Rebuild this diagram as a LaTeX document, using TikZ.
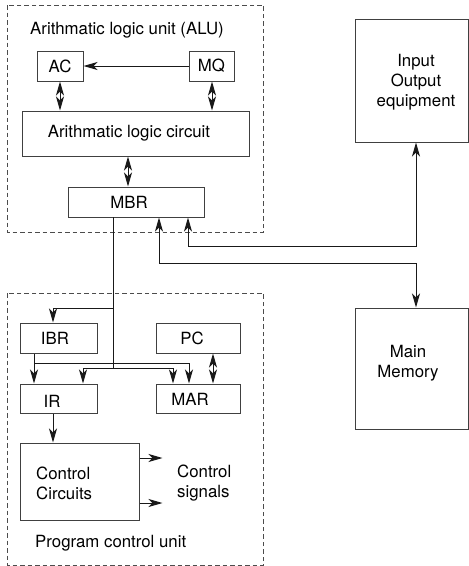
\documentclass[tikz,border=0pt]{standalone}
\usepackage{fontspec}
\setmainfont{TeX Gyre Heros}
\usetikzlibrary{arrows.meta,calc}

\begin{document}
\begin{tikzpicture}[x=1pt,y=-1pt,
  every node/.style={font=\fontsize{16.8}{20}\selectfont, inner sep=0pt, text=black},
  reg/.style={draw=black!75, line width=1pt, rectangle},
  unit/.style={draw=black!70, line width=0.9pt, dash pattern=on 4.5pt off 3pt},
  wire/.style={draw=black!90, line width=1pt},
  tip/.tip={Stealth[length=14pt,width=8pt,inset=4pt]},
  arr/.style={wire, -tip},
  dbl/.style={wire, tip-tip},
  lbl/.style={anchor=center},
  lft/.style={anchor=west}]

\useasboundingbox (0,0) rectangle (469,566);

% ---- Arithmetic logic unit ----
\draw[unit] (7,5) rectangle (263.5,232);
\node[lbl] (alutitle) at (127,30) {Arithmatic logic unit (ALU)};

\node[reg, minimum width=46pt, minimum height=30pt] (AC) at (60,66) {AC};
\node[reg, minimum width=45pt, minimum height=30pt] (MQ) at (211.5,66) {MQ};
\node[reg, minimum width=227pt, minimum height=45pt] (ALC) at (135.5,133.5) {};
\node[lbl] (alctext) at (129,133.5) {Arithmatic logic circuit};
\node[reg, minimum width=136pt, minimum height=30pt] (MBR) at (136,202) {};
\node[lbl] (mbrtext) at (129,202) {MBR};

\draw[arr] (MQ.west) -- (AC.east);
\draw[dbl] (AC.south) -- (AC.south |- ALC.north);
\draw[dbl] ([xshift=0.5pt]MQ.south) -- ([xshift=0.5pt]MQ.south |- ALC.north);
\draw[dbl] ([xshift=-7.5pt]ALC.south) -- ([xshift=-8pt]MBR.north);

% ---- Peripheral boxes ----
\node[reg, minimum width=113.5pt, minimum height=123pt] (IO) at (411.75,80.5) {};
\node[align=center] (iotext) at (416,82) {Input\\Output\\equipment};
\node[reg, minimum width=113.5pt, minimum height=121pt] (MM) at (411.75,368.5) {};
\node[align=center] (mmtext) at (408,363.5) {Main\\Memory};

% ---- Program control unit ----
\draw[unit] (7,293) rectangle (263.5,565);

\node[reg, minimum width=77pt, minimum height=30pt] (IBR) at (58.5,338) {};
\node[lbl] (ibrtext) at (55,338) {IBR};
\node[reg, minimum width=84pt, minimum height=30pt] (PC) at (198,338) {};
\node[lbl] (pctext) at (192,338) {PC};
\node[reg, minimum width=77pt, minimum height=29pt] (IR) at (58.5,398.5) {};
\node[lbl] (irtext) at (52,401) {IR};
\node[reg, minimum width=84pt, minimum height=29pt] (MAR) at (198,398.5) {};
\node[lbl] (martext) at (190,399) {MAR};
\node[reg, minimum width=119pt, minimum height=77pt] (CC) at (79.5,481.5) {};
\node[lft, align=left] (cctext) at (36,483) {Control\\Circuits};
\node[lft, align=left] (sigtext) at (177,483) {Control\\signals};
\node[lft] (pcutitle) at (35,543) {Program control unit};

% junction points of the internal bus
\coordinate (mbrdrop) at (113,217);
\coordinate (ibrtap) at (113,308);
\coordinate (busjoin) at (113,368);
\coordinate (ibrbranch) at (34,363);

% MBR feeds IBR, IR and MAR
\draw[wire] (mbrdrop) -- (busjoin);
\draw[arr] (ibrtap) -| ([xshift=-5.5pt]IBR.north);
\draw[wire] ([xshift=24.5pt]IR.north |- busjoin) -- ([xshift=-25pt]MAR.north |- busjoin);
\draw[arr] (busjoin) -| ([xshift=24.5pt]IR.north);
\draw[arr] (busjoin) -| ([xshift=-25pt]MAR.north);

% IBR feeds IR and MAR
\draw[arr] ([xshift=-24.5pt]IBR.south) -- ([xshift=-24.5pt]IR.north);
\draw[arr] (ibrbranch) -| ([xshift=-9pt]MAR.north);

% PC <-> MAR
\draw[dbl] ([xshift=15pt]PC.south) -- ([xshift=15pt]MAR.north);

% IR -> control circuits -> control signals
\draw[arr] ([xshift=-5.5pt]IR.south) -- ([xshift=-26.5pt]CC.north);
\draw[arr] ([yshift=-21.5pt]CC.east) -- ++(23,0);
\draw[arr] ([yshift=23.5pt]CC.east) -- ++(23,0);

% MBR <-> I/O and MBR <-> memory
\draw[wire, tip-tip] ([xshift=52pt]MBR.south) |- (416,246) -- ([xshift=4.25pt]IO.south);
\draw[wire, tip-tip] ([xshift=23pt]MBR.south) |- (416,263) -- ([xshift=4.25pt]MM.north);

\end{tikzpicture}
\end{document}
